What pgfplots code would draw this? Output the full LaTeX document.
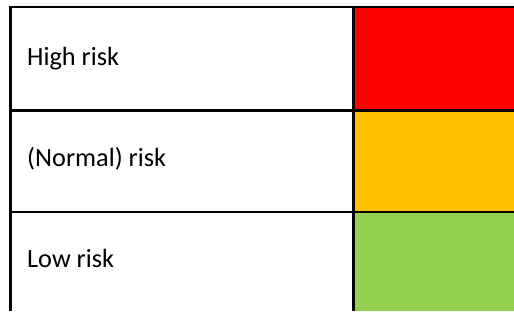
\documentclass[border=0pt]{standalone}
\usepackage{pgfplots}
\pgfplotsset{compat=1.18}
\usepackage{fontspec}
\setmainfont{Carlito}
\definecolor{cred}{HTML}{FF0000}
\definecolor{corange}{HTML}{FFC000}
\definecolor{cgreen}{HTML}{92D050}
\begin{document}
\begin{tikzpicture}
\begin{axis}[
  width=514pt, height=311pt, scale only axis,
  xmin=0, xmax=514, ymin=0, ymax=311, y dir=reverse,
  axis lines=none, clip=true,
]
% white background spanning the full picture
\addplot[fill=white, draw=none] coordinates {(0,0) (514,0) (514,311) (0,311)} -- cycle;
% coloured cells
\addplot[fill=cred, draw=none] coordinates {(354,7) (514,7) (514,110.5) (354,110.5)} -- cycle;
\addplot[fill=corange, draw=none] coordinates {(354,110.5) (514,110.5) (514,212) (354,212)} -- cycle;
\addplot[fill=cgreen, draw=none] coordinates {(354,212) (514,212) (514,311) (354,311)} -- cycle;
% grid lines
\addplot[black, line width=1.8pt] coordinates {(10,7) (514,7)};
\addplot[black, line width=2.2pt] coordinates {(9.5,110.5) (514,110.5)};
\addplot[black, line width=2.2pt] coordinates {(9.5,212) (514,212)};
\addplot[black, line width=2.2pt] coordinates {(10.5,6.2) (10.5,311)};
\addplot[black, line width=2.2pt] coordinates {(353.5,6.2) (353.5,311)};
% labels
\node[anchor=base west, inner sep=0pt, font=\fontsize{26.3}{31}\selectfont] at (axis cs:27,65) {High risk};
\node[anchor=base west, inner sep=0pt, font=\fontsize{26.3}{31}\selectfont] at (axis cs:27,166.5) {(Normal) risk};
\node[anchor=base west, inner sep=0pt, font=\fontsize{26.3}{31}\selectfont] at (axis cs:27,267) {Low risk};
\end{axis}
\end{tikzpicture}
\end{document}
